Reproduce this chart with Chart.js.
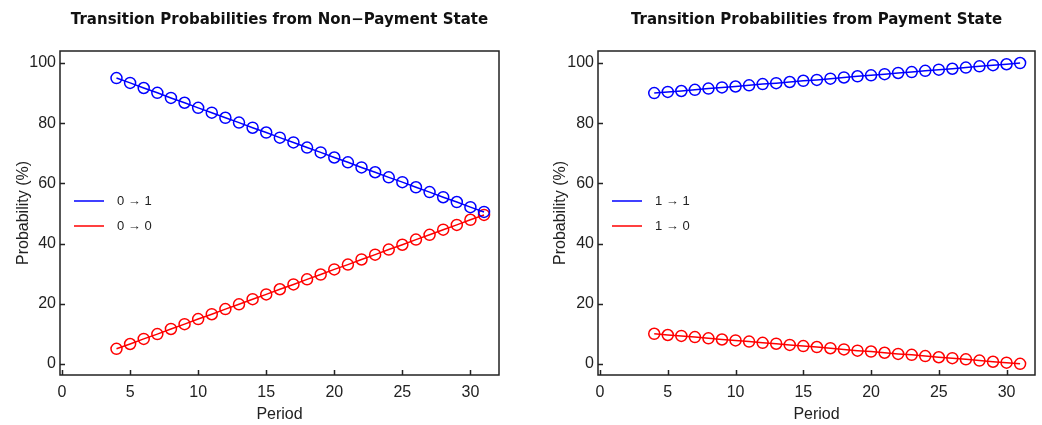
<!DOCTYPE html>
<html>
<head>
<meta charset="utf-8">
<script src="https://cdn.jsdelivr.net/npm/chart.js@4"></script>
<style>
  body { margin: 0; background: #fff; width: 1042px; height: 425px; position: relative; overflow: hidden; }
  canvas { position: absolute; top: 0; }
</style>
</head>
<body>
<canvas id="left" width="520" height="425" style="left:0"></canvas>
<canvas id="right" width="505" height="425" style="left:537px"></canvas>
<script>
// periods on the x axis
var periods = [4, 5, 6, 7, 8, 9, 10, 11, 12, 13, 14, 15, 16, 17, 18, 19, 20, 21, 22, 23, 24, 25, 26, 27, 28, 29, 30, 31];

// non-payment state
var nonPayTo1 = [95.0, 93.4, 91.7, 90.1, 88.4, 86.8, 85.1, 83.5, 81.8, 80.2, 78.5, 76.9, 75.2, 73.6,
                 71.9, 70.3, 68.6, 67.0, 65.3, 63.7, 62.0, 60.4, 58.7, 57.1, 55.4, 53.8, 52.1, 50.5];
var nonPayTo0 = [5.0, 6.6, 8.3, 9.9, 11.6, 13.2, 14.9, 16.5, 18.2, 19.8, 21.5, 23.1, 24.8, 26.4,
                 28.1, 29.7, 31.4, 33.0, 34.7, 36.3, 38.0, 39.6, 41.3, 42.9, 44.6, 46.2, 47.9, 49.5];

// payment state
var payTo1 = [90.0, 90.4, 90.7, 91.1, 91.5, 91.9, 92.2, 92.6, 93.0, 93.3, 93.7, 94.1, 94.4, 94.8,
              95.2, 95.6, 95.9, 96.3, 96.7, 97.0, 97.4, 97.8, 98.1, 98.5, 98.9, 99.3, 99.6, 100.0];
var payTo0 = [10.0, 9.6, 9.3, 8.9, 8.5, 8.1, 7.8, 7.4, 7.0, 6.7, 6.3, 5.9, 5.6, 5.2,
              4.8, 4.4, 4.1, 3.7, 3.3, 3.0, 2.6, 2.2, 1.9, 1.5, 1.1, 0.7, 0.4, 0.0];

var xTicks = [0, 5, 10, 15, 20, 25, 30];
var yTicks = [0, 20, 40, 60, 80, 100];

var FONT = "'Liberation Sans', 'DejaVu Sans', sans-serif";

// box, inward ticks, title and legend drawn by hand
var framePlugin = {
    id: 'frame',
    beforeDatasetsDraw(chart) {
        var ctx = chart.ctx, a = chart.chartArea, x = chart.scales.x, y = chart.scales.y;
        ctx.save();
        ctx.strokeStyle = '#222';
        ctx.lineWidth = 1.5;
        ctx.strokeRect(a.left, a.top, a.right - a.left, a.bottom - a.top);
        ctx.beginPath();
        x.ticks.forEach(function(t) {
            var px = Math.round(x.getPixelForValue(t.value)) + 0.5;
            ctx.moveTo(px, a.bottom);
            ctx.lineTo(px, a.bottom - 5);
        });
        y.ticks.forEach(function(t) {
            var py = Math.round(y.getPixelForValue(t.value)) + 0.5;
            ctx.moveTo(a.left, py);
            ctx.lineTo(a.left + 5, py);
        });
        ctx.stroke();

        var opts = chart.options.plugins.frame;
        ctx.fillStyle = '#111';
        ctx.font = "bold 15px 'DejaVu Sans', sans-serif";
        ctx.textAlign = 'center';
        ctx.textBaseline = 'middle';
        ctx.fillText(opts.title, (a.left + a.right) / 2, 20);
        ctx.restore();
    },
    afterDatasetsDraw(chart) {
        var ctx = chart.ctx, a = chart.chartArea;
        ctx.save();
        ctx.font = '13px ' + FONT;
        ctx.textBaseline = 'middle';
        ctx.textAlign = 'left';
        chart.data.datasets.forEach(function(ds, i) {
            var ly = 201 + i * 25;
            ctx.strokeStyle = ds.borderColor;
            ctx.lineWidth = 1.5;
            ctx.beginPath();
            ctx.moveTo(a.left + 14, ly);
            ctx.lineTo(a.left + 44, ly);
            ctx.stroke();
            ctx.fillStyle = '#222';
            ctx.fillText(ds.label, a.left + 57, ly);
        });
        ctx.restore();
    }
};

function series(vals) {
    return periods.map(function(p, i) { return { x: p, y: vals[i] }; });
}

function makeChart(id, title, a, b, names, yWidth, padRight) {
    var mk = function(vals, color, name) {
        return {
            label: name,
            data: series(vals),
            borderColor: color,
            backgroundColor: 'rgba(0,0,0,0)',
            borderWidth: 1.5,
            pointRadius: 5.5,
            pointBorderWidth: 1.5,
            pointBorderColor: color,
            pointBackgroundColor: 'rgba(0,0,0,0)'
        };
    };
    return new Chart(document.getElementById(id), {
        type: 'line',
        data: { datasets: [mk(a, '#0000ff', names[0]), mk(b, '#ff0000', names[1])] },
        plugins: [framePlugin],
        options: {
            responsive: false,
            animation: false,
            clip: false,
            layout: { padding: { top: 51, right: padRight, left: 0, bottom: 0 } },
            plugins: {
                legend: { display: false },
                tooltip: { enabled: false },
                frame: { title: title }
            },
            scales: {
                x: {
                    type: 'linear',
                    min: -0.15,
                    max: 32.1,
                    afterBuildTicks: function(s) { s.ticks = xTicks.map(function(v) { return { value: v }; }); },
                    afterFit: function(s) { s.height = 50; },
                    grid: { display: false, drawTicks: false },
                    border: { display: false },
                    ticks: { font: { family: FONT, size: 16 }, color: '#222', padding: 8 },
                    title: { display: true, text: 'Period', font: { family: FONT, size: 16 }, color: '#222', padding: { top: 0, bottom: 1 } }
                },
                y: {
                    min: -3.7,
                    max: 104,
                    afterBuildTicks: function(s) { s.ticks = yTicks.map(function(v) { return { value: v }; }); },
                    afterFit: function(s) { s.width = yWidth; },
                    grid: { display: false, drawTicks: false },
                    border: { display: false },
                    ticks: { font: { family: FONT, size: 16 }, color: '#222', padding: 4 },
                    title: { display: true, text: 'Probability (%)', font: { family: FONT, size: 16 }, color: '#222', padding: { top: 14 } }
                }
            }
        }
    });
}

makeChart('left', 'Transition Probabilities from Non\u2212Payment State', nonPayTo1, nonPayTo0,
          ['0 \u2192 1', '0 \u2192 0'], 60, 21);
makeChart('right', 'Transition Probabilities from Payment State', payTo1, payTo0,
          ['1 \u2192 1', '1 \u2192 0'], 61, 6);
</script>
</body>
</html>
